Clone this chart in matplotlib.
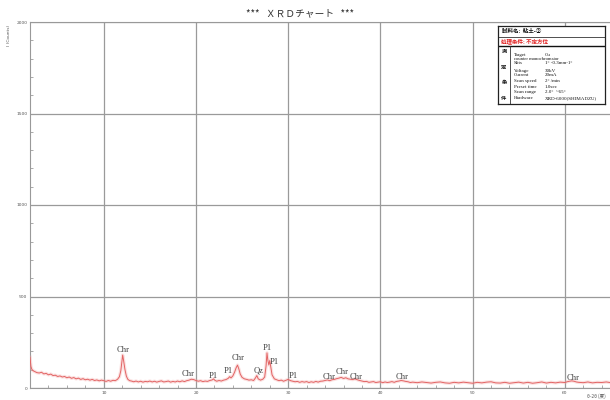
import numpy as np
import matplotlib.pyplot as plt
from matplotlib.ticker import MultipleLocator

# ---- data -----------------------------------------------------------------
two_theta = [
    2.00, 2.05, 2.10, 2.20, 2.35, 2.50, 2.75, 3.00, 3.25, 3.50, 3.75, 4.00,
    4.25, 4.50, 4.75, 5.00, 5.25, 5.50, 5.75, 6.00, 6.25, 6.50, 6.75, 7.00,
    7.25, 7.50, 7.75, 8.00, 8.25, 8.50, 8.75, 9.00, 9.25, 9.50, 9.75, 10.00,
    10.25, 10.50, 10.75, 11.00, 11.25, 11.50, 11.70, 11.85, 11.95, 12.05,
    12.15, 12.30, 12.45, 12.60, 12.80, 13.00, 13.25, 13.50, 13.75, 14.00,
    14.25, 14.50, 14.75, 15.00, 15.25, 15.50, 15.75, 16.00, 16.25, 16.50,
    16.75, 17.00, 17.25, 17.50, 17.75, 18.00, 18.25, 18.50, 18.75, 19.00,
    19.25, 19.50, 19.75, 20.00, 20.25, 20.50, 20.75, 21.00, 21.25, 21.50,
    21.75, 21.90, 22.05, 22.25, 22.50, 22.75, 23.00, 23.25, 23.50, 23.65,
    23.80, 24.00, 24.20, 24.35, 24.50, 24.65, 24.80, 25.00, 25.25, 25.50,
    25.75, 26.00, 26.25, 26.45, 26.60, 26.75, 27.00, 27.25, 27.45, 27.60,
    27.70, 27.80, 27.90, 28.00, 28.10, 28.25, 28.50, 28.75, 29.00, 29.25,
    29.50, 29.75, 30.00, 30.25, 30.50, 30.75, 31.00, 31.25, 31.50, 31.75,
    32.00, 32.25, 32.50, 32.75, 33.00, 33.25, 33.50, 33.75, 34.00, 34.25,
    34.50, 34.75, 35.00, 35.25, 35.50, 35.75, 36.00, 36.25, 36.50, 36.75,
    37.00, 37.25, 37.50, 37.75, 38.00, 38.25, 38.50, 38.75, 39.00, 39.25,
    39.50, 39.75, 40.00, 40.25, 40.50, 40.75, 41.00, 41.25, 41.50, 41.75,
    42.00, 42.25, 42.50, 42.75, 43.00, 43.25, 43.50, 44.00, 44.50, 45.00,
    45.50, 46.00, 46.50, 47.00, 47.50, 48.00, 48.50, 49.00, 49.50, 50.00,
    50.50, 51.00, 51.50, 52.00, 52.50, 53.00, 53.50, 54.00, 54.50, 55.00,
    55.50, 56.00, 56.50, 57.00, 57.50, 58.00, 58.50, 59.00, 59.50, 60.00,
    60.25, 60.50, 60.75, 61.00, 61.25, 61.50, 62.00, 62.50, 63.00, 63.50,
    64.00, 64.50, 65.00,
]
counts = [
    168, 140, 118, 102, 94, 90, 84, 82, 86, 77, 80, 72,
    76, 68, 70, 63, 66, 60, 63, 56, 60, 53, 57, 50,
    54, 47, 51, 45, 48, 43, 47, 41, 44, 39, 43, 40,
    36, 41, 37, 42, 40, 48, 62, 95, 140, 180,
    150, 100, 65, 48, 40, 38, 34, 38, 33, 37,
    32, 36, 34, 38, 33, 37, 32, 36, 39, 33,
    35, 38, 32, 36, 33, 38, 34, 39, 35, 40,
    43, 48, 46, 41, 37, 40, 35, 38, 36, 41,
    44, 50, 42, 37, 41, 38, 43, 46, 53, 62,
    55, 66, 88, 110, 125, 104, 76, 58, 50, 47,
    43, 45, 41, 55, 68, 50, 43, 48, 60, 120,
    192, 150, 126, 150, 118, 72, 50, 45, 40, 43,
    37, 42, 47, 40, 37, 34, 36, 31, 35, 32,
    35, 30, 34, 31, 36, 32, 37, 38, 41, 44,
    40, 45, 47, 51, 54, 58, 52, 56, 50, 48,
    46, 50, 45, 41, 38, 35, 36, 31, 33, 35,
    30, 32, 34, 29, 33, 30, 32, 35, 31, 36,
    38, 41, 39, 36, 34, 30, 32, 29, 33, 30,
    27, 31, 33, 28, 26, 31, 28, 32, 29, 26,
    31, 28, 32, 34, 28, 27, 31, 26, 29, 32,
    27, 31, 26, 29, 33, 27, 31, 28, 32, 30,
    34, 37, 39, 37, 33, 31, 29, 33, 28, 31,
    30, 33, 29,
]

peak_text = ["Chr", "Chr", "P1", "P1", "Chr", "Qz", "P1", "P1", "P1",
             "Chr", "Chr", "Chr", "Chr", "Chr"]
peak_x = [12.15, 19.2, 21.9, 23.5, 24.6, 26.8, 27.75, 28.5, 30.5,
          34.4, 35.8, 37.4, 42.4, 60.9]
peak_y = [208, 77, 66, 93, 164, 93, 219, 142, 66, 60, 88, 60, 60, 55]

cond_keys = ["Target", "", "Slits", "Voltage", "Current", "Scan speed",
             "Preset time", "Scan range", "Hardware"]
cond_vals = ["Cu", "", "1° -0.3mm-1°", "30kV", "20mA", "2° /min",
             "1.0sec", "2.0°  ~65°", "XRD-6000(SHIMADZU)"]

JP = ['Noto Sans CJK JP', 'DejaVu Sans']
SERIF = ['Liberation Serif', 'DejaVu Serif']

# ---- figure ---------------------------------------------------------------
fig = plt.figure(figsize=(6.1, 4.0), dpi=100)
ax = fig.add_axes([30/610, 12/400, 580/610, 366/400])

ax.plot(two_theta, counts, color='#f4a8a8', lw=2.4, alpha=0.35, zorder=3)
ax.plot(two_theta, counts, color='#e26464', lw=0.7, zorder=4)

for s, x, y in zip(peak_text, peak_x, peak_y):
    ax.text(x, y, s, ha='center', va='center', fontsize=6.2,
            family=SERIF, color='#444444', zorder=5)

ax.set_xlim(2, 64.9)
ax.set_ylim(0, 2000)
ax.xaxis.set_major_locator(MultipleLocator(10))
ax.xaxis.set_minor_locator(MultipleLocator(2))
ax.yaxis.set_major_locator(MultipleLocator(500))
ax.yaxis.set_minor_locator(MultipleLocator(100))
ax.grid(True, which='major', color='#9a9a9a', lw=0.9, zorder=1)
ax.tick_params(which='both', direction='in', colors='#888888',
               labelsize=3.2, labelcolor='#555555', pad=2)
ax.tick_params(which='major', length=0)
ax.tick_params(which='minor', length=2, width=0.5)
ax.spines['right'].set_visible(False)
for side in ['left', 'bottom', 'top']:
    ax.spines[side].set_color('#999999')
    ax.spines[side].set_linewidth(0.8)

fig.text(300/610, 1 - 13/400, "***   ＸＲＤチャート   ***", ha='center',
         va='center', fontsize=7, family=JP, color='#333333')
fig.text(9/610, 1 - 35/400, "I (Counts)", rotation=90, ha='center',
         va='center', fontsize=3.2, color='#555555')
fig.text(596/610, 1 - 396/400, "θ-2θ (度)", ha='center', va='center',
         fontsize=3.4, family=JP, color='#555555')

# ---- condition box (local pixel coords) -----------------------------------
bx = fig.add_axes([498/610, 1 - 104/400, 107/610, 78/400])
bx.set_xlim(0, 107)
bx.set_ylim(78, 0)
bx.set_xticks([])
bx.set_yticks([])
bx.set_facecolor('white')
bx.set_zorder(10)
for sp in bx.spines.values():
    sp.set_linewidth(0.9)
    sp.set_color('#222222')

bx.text(4, 5.5, "試料名:  粘土-②", fontsize=4.0, family=JP, va='center',
        color='#111111', weight='bold')
bx.axhline(11, color='#333333', lw=0.6)
bx.text(3, 15.5, "処理条件: 不定方位", fontsize=4.0, family=JP, va='center',
        color='#e02020', weight='bold')
bx.axhline(20, color='#111111', lw=1.0)
bx.plot([12, 12], [20, 78], color='#333333', lw=0.6)
for ch, y in zip("測定条件", [25, 41, 57, 73]):
    bx.text(6, y, ch, fontsize=3.8, family=JP, ha='center', va='center',
            color='#111111', weight='bold')

row_y = [29, 33, 37, 45, 49, 55, 61, 66, 72]
for k, v, y in zip(cond_keys, cond_vals, row_y):
    bx.text(16, y, k, fontsize=3.6, family=SERIF, va='center', color='#111111')
    bx.text(47, y, v, fontsize=3.6, family=SERIF, va='center', color='#111111')
bx.text(16, 33, "counter monochromator", fontsize=3.3, family=SERIF,
        va='center', color='#111111')

fig.savefig('out.png', dpi=100)
